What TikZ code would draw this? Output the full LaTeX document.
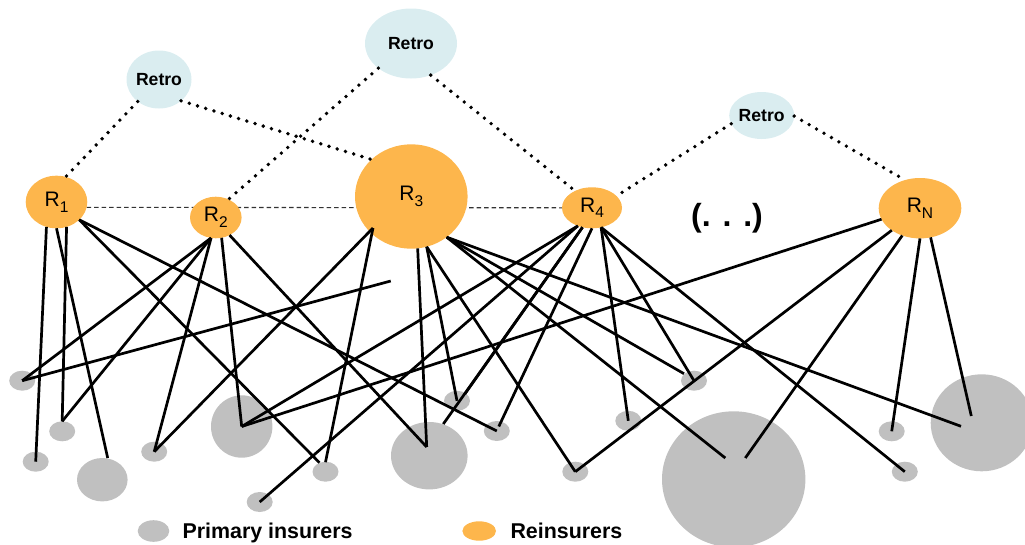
\documentclass[tikz,border=0pt]{standalone}
\usepackage{fontspec}
\setmainfont{Liberation Sans}
\usetikzlibrary{shapes.geometric,backgrounds}
\definecolor{reinsorange}{RGB}{253,182,76}
\definecolor{retroblue}{RGB}{218,237,240}
\definecolor{insgray}{RGB}{192,192,192}
\newcommand{\rsub}[1]{\raisebox{-0.28em}{\fontsize{15.5}{18}\selectfont #1}}
\tikzset{
  reins/.style={ellipse,fill=reinsorange,inner sep=0pt,outer sep=0pt,
    font=\fontsize{21}{25}\selectfont},
  retro/.style={ellipse,fill=retroblue,inner sep=0pt,outer sep=0pt,
    font=\fontsize{17.6}{21}\selectfont\bfseries},
  ins/.style={ellipse,fill=insgray,inner sep=0pt,outer sep=0pt,
    minimum width=26pt,minimum height=20pt},
  link/.style={line width=2.7pt},
  retrolink/.style={line width=3.8pt,line cap=round,dash pattern=on 0pt off 8.6pt},
  peer/.style={line width=1.1pt,black!80,dash pattern=on 4.5pt off 3pt}
}
\begin{document}
\begin{tikzpicture}[x=1pt,y=-1pt]
      \useasboundingbox (0,0) rectangle (1025,544);
      \draw
        (159,79.5) node[retro,minimum width=62pt,minimum height=58pt] (t1){Retro}
        (411,43.5) node[retro,minimum width=92pt,minimum height=70pt] (t2){Retro}
        (761.7,115.5) node[retro,minimum width=54pt,minimum height=47pt] (t3){Retro}
        (56.5,202) node[reins,minimum width=61.6pt,minimum height=52.6pt] (r1){R\rsub{1}}
        (215.8,217.5) node[reins,minimum width=51.6pt,minimum height=41.6pt] (r2){R\rsub{2}}
        (411.3,196.5) node[reins,minimum width=112.6pt,minimum height=104.4pt] (r3){R\rsub{3}}
        (592,207.8) node[reins,minimum width=60pt,minimum height=41pt] (r4){R\rsub{4}}
        (920,208.2) node[reins,minimum width=82.6pt,minimum height=60.4pt] (rn){R\rsub{N}}
        (727,218.3) node[font=\fontsize{32}{38}\selectfont\bfseries] (dots){(. . .)};
      \draw
        (22.2,380.7) node[ins] (pa){}
        (62.2,431.3) node[ins] (pb){}
        (35.7,461.7) node[ins] (pc){}
        (102.3,479.7) node[ins,minimum width=50.6pt,minimum height=43.4pt] (pd){}
        (154.2,451.7) node[ins] (pe){}
        (241.7,426.5) node[ins,minimum width=61.4pt,minimum height=62.4pt] (pf){}
        (325.5,471.7) node[ins] (pg){}
        (259.7,502) node[ins] (ph){}
        (429.3,455.7) node[ins,minimum width=76.6pt,minimum height=67.4pt] (pi){}
        (457,400.8) node[ins] (pj){}
        (496.8,431) node[ins] (pk){}
        (694,380.7) node[ins] (pl){}
        (628.3,420.8) node[ins] (pm){}
        (575.3,471.7) node[ins] (pn){}
        (733.7,479.3) node[ins,minimum width=143.4pt,minimum height=136pt] (po){}
        (891.7,431.3) node[ins] (pp){}
        (904.8,471.7) node[ins] (pq){}
        (981.7,422.8) node[ins,minimum width=102pt,minimum height=97pt] (pr){};
      \draw
        (153.5,531) node[ins,minimum width=31.6pt,minimum height=21.6pt] (keyins){}
        (479.2,531) node[reins,minimum width=33.6pt,minimum height=19.4pt] (keyreins){};
      \node[anchor=base west,font=\fontsize{21.4}{25}\selectfont\bfseries] (keyinstext) at (179,538.5) {Primary insurers};
      \node[anchor=base west,font=\fontsize{21.4}{25}\selectfont\bfseries] (keyreinstext) at (507,538.5) {Reinsurers};
      \coordinate (r3a) at ([xshift=-38.3pt,yshift=-31.5pt]r3.center);
      \coordinate (loose) at (390.7,281);
      \coordinate (pb-t) at ([yshift=10pt]pb.center);
      \coordinate (pd-t) at ([xshift=5.4pt,yshift=21.7pt]pd.center);
      \coordinate (pg-l) at ([xshift=-6pt,yshift=9pt]pg.center);
      \coordinate (pg-r) at ([yshift=9.5pt]pg.center);
      \coordinate (pi-c) at ([xshift=-2.6pt,yshift=8.7pt]pi.center);
      \coordinate (pi-t) at ([xshift=14pt,yshift=31.7pt]pi.center);
      \coordinate (pj-r) at ([xshift=8pt,yshift=7pt]pj.center);
      \coordinate (pk-t) at ([xshift=2pt,yshift=4.5pt]pk.center);
      \coordinate (pl-l) at ([xshift=-10pt,yshift=7pt]pl.center);
      \coordinate (po-l) at ([xshift=-8.4pt,yshift=21.3pt]po.center);
      \coordinate (po-r) at ([xshift=11.6pt,yshift=21.3pt]po.center);
      \coordinate (pr-l) at ([xshift=-20.7pt,yshift=-3.5pt]pr.center);
      \coordinate (pr-r) at ([xshift=-10.4pt,yshift=6.8pt]pr.center);
      \begin{scope}[on background layer]
        \draw[peer] (r1.-10) to (r4.west);
      \end{scope}
      \begin{scope}[retrolink]
        \draw (t1.-134) to (r1.70);
        \draw (t1.-44) to (r3.137.5);
        \draw (t2.-143) to (r2.55);
        \draw (t2.-58.5) to (r4.135);
        \draw (t3.-165.5) to (r4.26);
        \draw (t3.-1) to (rn.118);
      \end{scope}
      \begin{scope}[link]
        \draw (r1.-112) to (pc.center);
        \draw (r1.-90) to (pd-t);
        \draw (r1.-68) to (pb-t);
        \draw (r1.-38) to (pg-l);
        \draw (r1.-38) to (pk.center);
        \draw (r2.-103) to (pa.center);
        \draw (r2.-103) to (pb-t);
        \draw (r2.-103) to (pe.center);
        \draw (r2.-74) to (pf.center);
        \draw (r2.-52) to (pi-c);
        \draw (r3a) to (pe.center);
        \draw (r3a) to (pg-r);
        \draw (r3.-83.5) to (pi-c);
        \draw (r3.-73.4) to (pj.center);
        \draw (r3.-73.4) to (pn.center);
        \draw (r3.-49.5) to (pl-l);
        \draw (r3.-49.5) to (po-l);
        \draw (r3.-49.5) to (pr-l);
        \draw (r4.-128) to (ph.center);
        \draw (r4.-128) to (pf.center);
        \draw (r4.-116) to (pj-r);
        \draw (r4.-116) to (pi-t);
        \draw (r4.-90) to (pk-t);
        \draw (r4.-65) to (pm.center);
        \draw (r4.-65) to (pl.center);
        \draw (r4.-65) to (pq.center);
        \draw (rn.-164) to (pf.center);
        \draw (rn.-142) to (pn.center);
        \draw (rn.-123) to (po-r);
        \draw (rn.-90) to (pp.center);
        \draw (rn.-70) to (pr-r);
        \draw (pa.center) to (loose);
      \end{scope}
    \end{tikzpicture}
\end{document}
